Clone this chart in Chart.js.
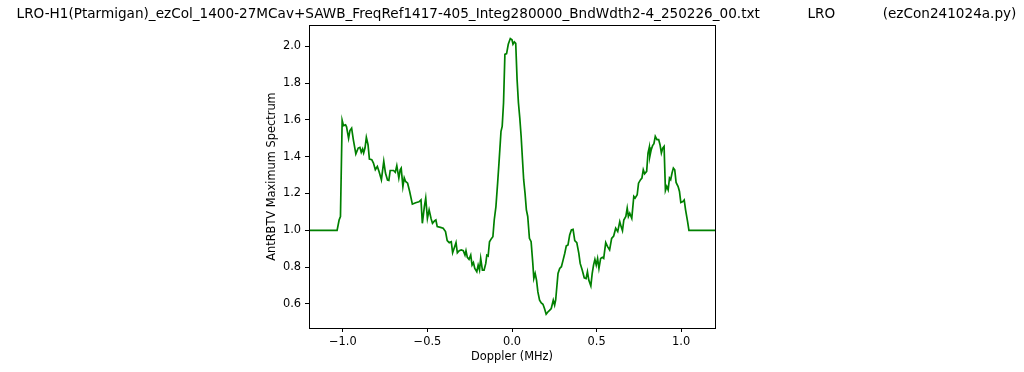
<!DOCTYPE html>
<html>
<head>
<meta charset="utf-8">
<script src="https://cdn.jsdelivr.net/npm/chart.js@4"></script>
<style>
  html, body { margin: 0; padding: 0; background: #fff; }
  #wrap { width: 1024px; height: 372px; }
</style>
</head>
<body>
<div id="wrap"><canvas id="spectrumChart" width="1024" height="372"></canvas></div>
<script>
const chartTitle = "LRO-H1(Ptarmigan)_ezCol_1400-27MCav+SAWB_FreqRef1417-405_Integ280000_BndWdth2-4_250226_00.txt           LRO           (ezCon241024a.py)";

// Doppler offsets (MHz)
const dopplerMHz = [
  -1.200, -1.034, -1.022, -1.014, -1.004, -0.996, -0.984, -0.978, -0.966, -0.958,
  -0.948, -0.938, -0.923, -0.909, -0.899, -0.891, -0.883, -0.877, -0.869, -0.861,
  -0.851, -0.843, -0.829, -0.819, -0.808, -0.796, -0.786, -0.772, -0.758, -0.748,
  -0.736, -0.728, -0.720, -0.700, -0.690, -0.681, -0.669, -0.661, -0.655, -0.645,
  -0.637, -0.629, -0.617, -0.605, -0.589, -0.577, -0.565, -0.550, -0.538, -0.530,
  -0.518, -0.510, -0.500, -0.490, -0.478, -0.470, -0.458, -0.450, -0.442, -0.423,
  -0.407, -0.393, -0.383, -0.371, -0.359, -0.351, -0.339, -0.331, -0.323, -0.312,
  -0.300, -0.288, -0.278, -0.272, -0.264, -0.254, -0.244, -0.236, -0.228, -0.220,
  -0.208, -0.200, -0.192, -0.185, -0.175, -0.165, -0.155, -0.149, -0.141, -0.133,
  -0.121, -0.113, -0.105, -0.095, -0.085, -0.077, -0.065, -0.058, -0.050, -0.042,
  -0.032, -0.022, -0.010, 0.000, 0.006, 0.014, 0.022, 0.030, 0.038, 0.046,
  0.054, 0.062, 0.069, 0.077, 0.085, 0.093, 0.103, 0.113, 0.123, 0.129,
  0.137, 0.145, 0.153, 0.163, 0.173, 0.183, 0.192, 0.202, 0.212, 0.222,
  0.232, 0.244, 0.252, 0.258, 0.272, 0.282, 0.292, 0.302, 0.312, 0.321,
  0.331, 0.341, 0.351, 0.361, 0.371, 0.383, 0.395, 0.403, 0.415, 0.427,
  0.438, 0.446, 0.454, 0.466, 0.474, 0.482, 0.490, 0.498, 0.506, 0.514,
  0.524, 0.534, 0.542, 0.554, 0.565, 0.577, 0.589, 0.601, 0.613, 0.625,
  0.637, 0.645, 0.653, 0.661, 0.673, 0.681, 0.688, 0.696, 0.708, 0.720,
  0.728, 0.740, 0.748, 0.760, 0.768, 0.776, 0.784, 0.796, 0.804, 0.812,
  0.815, 0.823, 0.831, 0.839, 0.847, 0.857, 0.867, 0.875, 0.883, 0.891,
  0.899, 0.907, 0.915, 0.923, 0.931, 0.938, 0.946, 0.954, 0.962, 0.970,
  0.982, 0.990, 0.998, 1.010, 1.018, 1.026, 1.038, 1.046, 1.200
];

// AntRBTV maximum spectrum values
const maxSpectrum = [
  1.000, 1.000, 1.056, 1.075, 1.598, 1.569, 1.573, 1.562, 1.500, 1.542,
  1.555, 1.493, 1.415, 1.447, 1.451, 1.424, 1.442, 1.420, 1.447, 1.505,
  1.465, 1.387, 1.384, 1.365, 1.329, 1.347, 1.320, 1.275, 1.375, 1.311,
  1.273, 1.271, 1.325, 1.325, 1.315, 1.351, 1.284, 1.329, 1.338, 1.238,
  1.285, 1.265, 1.256, 1.211, 1.142, 1.147, 1.151, 1.155, 1.165, 1.038,
  1.129, 1.175, 1.065, 1.111, 1.062, 1.038, 1.051, 1.056, 1.020, 1.016,
  1.011, 0.993, 0.944, 0.933, 0.938, 0.878, 0.911, 0.933, 0.878, 0.889,
  0.893, 0.889, 0.865, 0.889, 0.853, 0.842, 0.865, 0.811, 0.824, 0.793,
  0.775, 0.811, 0.784, 0.847, 0.784, 0.784, 0.820, 0.865, 0.860, 0.938,
  0.956, 0.965, 1.056, 1.129, 1.256, 1.365, 1.538, 1.565, 1.693, 1.956,
  1.960, 2.011, 2.042, 2.035, 2.011, 2.024, 2.016, 1.820, 1.693, 1.611,
  1.511, 1.384, 1.275, 1.202, 1.111, 1.075, 0.956, 0.938, 0.820, 0.738,
  0.765, 0.729, 0.665, 0.620, 0.605, 0.598, 0.575, 0.544, 0.556, 0.565,
  0.575, 0.620, 0.593, 0.620, 0.765, 0.793, 0.802, 0.838, 0.875, 0.915,
  0.920, 0.975, 1.002, 1.005, 0.944, 0.933, 0.875, 0.820, 0.784, 0.742,
  0.738, 0.775, 0.729, 0.698, 0.765, 0.811, 0.842, 0.811, 0.847, 0.793,
  0.847, 0.853, 0.847, 0.933, 0.911, 0.893, 0.956, 0.969, 1.011, 0.993,
  1.047, 1.020, 0.998, 1.056, 1.075, 1.120, 1.075, 1.093, 1.065, 1.184,
  1.175, 1.193, 1.256, 1.275, 1.284, 1.329, 1.307, 1.320, 1.420, 1.453,
  1.402, 1.438, 1.460, 1.471, 1.511, 1.493, 1.493, 1.465, 1.420, 1.447,
  1.456, 1.216, 1.238, 1.220, 1.284, 1.275, 1.311, 1.338, 1.329, 1.260,
  1.238, 1.211, 1.151, 1.156, 1.165, 1.111, 1.047, 1.000, 1.000
];

const xTicks = [-1.0, -0.5, 0.0, 0.5, 1.0];
const yTicks = [0.6, 0.8, 1.0, 1.2, 1.4, 1.6, 1.8, 2.0];

const FONT = "DejaVu Sans";
const fmt = v => Number(v).toFixed(1).replace("-", "\u2212");

const points = dopplerMHz.map((x, i) => ({ x: x, y: maxSpectrum[i] }));

// draw the full box around the plot, like matplotlib spines
const frame = {
  id: "frame",
  afterDraw(chart) {
    const a = chart.chartArea;
    const ctx = chart.ctx;
    ctx.save();
    ctx.strokeStyle = "#000";
    ctx.lineWidth = 1;
    ctx.strokeRect(Math.round(a.left) + 0.5, Math.round(a.top) + 0.5,
      Math.round(a.right - a.left), Math.round(a.bottom - a.top));
    ctx.restore();
  }
};

new Chart(document.getElementById("spectrumChart"), {
  type: "line",
  data: {
    datasets: [{
      data: points,
      borderColor: "#008000",
      borderWidth: 1.7,
      pointRadius: 0,
      tension: 0,
      fill: false
    }]
  },
  options: {
    responsive: false,
    animation: false,
    layout: { padding: { left: 9, right: 0, top: 0, bottom: 8 } },
    plugins: {
      legend: { display: false },
      tooltip: { enabled: false },
      title: {
        display: true,
        text: chartTitle,
        color: "#000",
        font: { family: FONT, size: 13.6, weight: "normal" },
        padding: { top: 6.4, bottom: 2.4 }
      }
    },
    scales: {
      x: {
        type: "linear",
        min: -1.2,
        max: 1.2,
        afterBuildTicks: s => { s.ticks = xTicks.map(v => ({ value: v })); },
        afterFit: s => { s.height = 36; },
        ticks: { color: "#000", font: { family: FONT, size: 11.4 }, padding: 3, maxRotation: 0, callback: v => fmt(v) },
        grid: { drawOnChartArea: false, drawTicks: true, tickLength: 4, color: "#000" },
        border: { display: false },
        title: { display: true, text: "Doppler (MHz)", color: "#000", font: { family: FONT, size: 11.4 }, padding: { top: 0, bottom: 0 } }
      },
      y: {
        min: 0.469,
        max: 2.115,
        afterBuildTicks: s => { s.ticks = yTicks.map(v => ({ value: v })); },
        afterFit: s => { s.width = 300; },
        ticks: { color: "#000", font: { family: FONT, size: 11.4 }, padding: 4, callback: v => fmt(v) },
        grid: { drawOnChartArea: false, drawTicks: true, tickLength: 4, color: "#000" },
        border: { display: false },
        title: { display: true, text: "AntRBTV Maximum Spectrum", color: "#000", font: { family: FONT, size: 11.4 }, padding: { top: 256, bottom: 0 } }
      },
      spacer: {
        type: "linear",
        position: "right",
        display: true,
        afterFit: s => { s.width = 309; },
        ticks: { display: false },
        grid: { display: false },
        border: { display: false }
      }
    }
  },
  plugins: [frame]
});
</script>
</body>
</html>
